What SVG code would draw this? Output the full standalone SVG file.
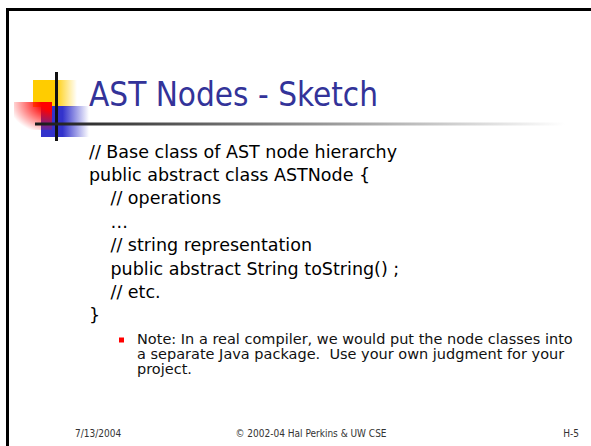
<svg xmlns="http://www.w3.org/2000/svg" width="591" height="446" viewBox="0 0 591 446">
  <defs>
    <linearGradient id="yellowFade" x1="0" y1="0" x2="1" y2="0">
      <stop offset="0" stop-color="#FFCC00"/>
      <stop offset="0.5" stop-color="#FFCC00"/>
      <stop offset="1" stop-color="#FFCC00" stop-opacity="0"/>
    </linearGradient>
    <linearGradient id="blueFade" x1="0" y1="0" x2="1" y2="0">
      <stop offset="0" stop-color="#3333CC"/>
      <stop offset="0.45" stop-color="#3333CC"/>
      <stop offset="1" stop-color="#3333CC" stop-opacity="0"/>
    </linearGradient>
    <radialGradient id="redFade" cx="1" cy="0" r="1.15" fx="1" fy="0">
      <stop offset="0" stop-color="#FF0000"/>
      <stop offset="0.25" stop-color="#FF0000"/>
      <stop offset="1" stop-color="#FF0000" stop-opacity="0"/>
    </radialGradient>
    <linearGradient id="ruleFade" gradientUnits="userSpaceOnUse" x1="35" y1="0" x2="565" y2="0">
      <stop offset="0" stop-color="#1a1a1a"/>
      <stop offset="1" stop-color="#ffffff"/>
    </linearGradient>
    <style>
      .frame { stroke: #000; stroke-width: 3; fill: none; }
      .title { font-family: "DejaVu Sans Condensed", "DejaVu Sans", sans-serif; font-size: 34px; fill: #333399; }
      .code { font-family: "DejaVu Sans", sans-serif; font-size: 17.5px; fill: #000; }
      .note { font-family: "DejaVu Sans", sans-serif; font-size: 14.5px; fill: #111; }
      .foot { font-family: "DejaVu Sans Condensed", "DejaVu Sans", sans-serif; font-size: 10px; fill: #333; }
    </style>
  </defs>

  <rect width="591" height="446" fill="#fff"/>

  <!-- slide frame: top and left edges -->
  <g id="frame">
    <path class="frame" d="M7.5 446 V9.5 H591"/>
  </g>

  <!-- decorative logo blocks and crosshair rules -->
  <g id="logo">
    <rect x="33" y="80" width="44" height="27" fill="url(#yellowFade)"/>
    <rect x="41" y="106" width="48" height="31" fill="url(#blueFade)"/>
    <rect x="14" y="102" width="38" height="28" fill="url(#redFade)"/>
    <rect x="55" y="72" width="3" height="69" fill="#111"/>
    <rect x="35" y="122.5" width="530" height="3" fill="url(#ruleFade)"/>
  </g>

  <g id="title">
    <text class="title" x="89" y="105.5" textLength="289" lengthAdjust="spacingAndGlyphs">AST Nodes - Sketch</text>
  </g>

  <g id="code">
    <text class="code" x="89" y="157.5">// Base class of AST node hierarchy</text>
    <text class="code" x="89" y="180.9">public abstract class ASTNode {</text>
    <text class="code" x="110.5" y="204.3">// operations</text>
    <text class="code" x="110.5" y="227.7">…</text>
    <text class="code" x="110.5" y="251.1">// string representation</text>
    <text class="code" x="110.5" y="274.5">public abstract String toString() ;</text>
    <text class="code" x="110.5" y="297.9">// etc.</text>
    <text class="code" x="89" y="321.3">}</text>
  </g>

  <g id="note">
    <rect x="119" y="337.5" width="5" height="5" fill="#FF0000"/>
    <text class="note" x="137" y="343.5">Note: In a real compiler, we would put the node classes into</text>
    <text class="note" x="137" y="358.5" xml:space="preserve">a separate Java package.  Use your own judgment for your</text>
    <text class="note" x="137" y="373.5">project.</text>
  </g>

  <g id="footer">
    <text class="foot" x="75" y="437">7/13/2004</text>
    <text class="foot" x="311" y="437" text-anchor="middle">© 2002-04 Hal Perkins &amp; UW CSE</text>
    <text class="foot" x="579" y="437" text-anchor="end">H-5</text>
  </g>
</svg>
